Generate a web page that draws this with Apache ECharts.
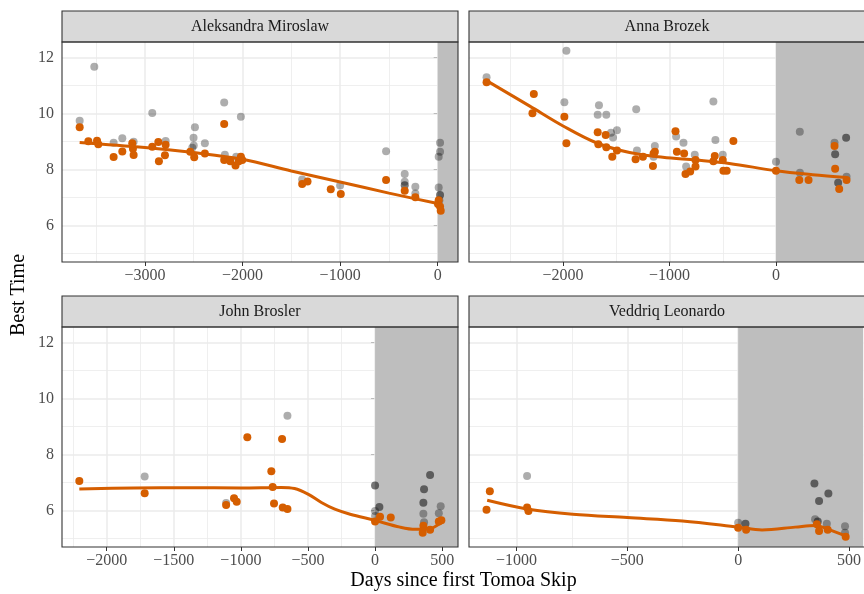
<!DOCTYPE html>
<html><head><meta charset="utf-8">
<script src="https://cdn.jsdelivr.net/npm/echarts@6/dist/echarts.min.js"></script>
<style>html,body{margin:0;padding:0;background:#fff}#c{width:864px;height:594px}</style>
</head><body><div id="c"></div>
<script>
// ---------- data ----------
const panelNames = ['Aleksandra Miroslaw', 'Anna Brozek', 'John Brosler', 'Veddriq Leonardo'];

const aleksGray = [[-3669,9.74],[-3519,11.67],[-3321,8.95],[-3232,9.11],[-3116,8.99],[-2925,10.01],[-2788,9.01],[-2515,8.77],[-2502,9.13],[-2488,9.5],[-2500,8.85],[-2386,8.93],[-2188,10.39],[-2181,8.52],[-2065,8.45],[-2017,9.88],[-1389,7.64],[-1000,7.42],[-529,8.65],[-338,7.83],[-338,7.56],[-229,7.38],[-229,7.14],[10,7.35],[10,8.45],[24,8.63],[24,8.95],[17,6.9]];
const aleksDark = [[-338,7.43],[24,7.08]];
const aleksOrange = [[-3669,9.5],[-3580,9.0],[-3491,9.02],[-3478,8.9],[-3321,8.44],[-3232,8.64],[-3130,8.93],[-3123,8.74],[-3116,8.51],[-2925,8.81],[-2863,8.98],[-2857,8.29],[-2795,8.5],[-2788,8.88],[-2536,8.63],[-2495,8.43],[-2386,8.57],[-2188,9.62],[-2188,8.33],[-2126,8.29],[-2072,8.14],[-2038,8.29],[-2017,8.45],[-2003,8.33],[-1389,7.48],[-1334,7.57],[-1096,7.29],[-993,7.12],[-529,7.62],[-338,7.24],[-229,7.0],[10,6.9],[24,6.67],[31,6.52],[3,6.76]];
const aleksSmooth = [[-3669,8.96],[-3000,8.78],[-2500,8.6],[-2000,8.36],[-1500,7.94],[-1000,7.55],[-500,7.15],[0,6.78],[31,6.75]];

const annaGray = [[-2719,11.29],[-1969,12.24],[-1988,10.4],[-1663,10.29],[-1675,9.95],[-1594,9.95],[-1550,9.31],[-1494,9.4],[-1531,9.14],[-1313,10.15],[-1306,8.67],[-1138,8.83],[-1150,8.45],[-938,9.17],[-869,8.95],[-763,8.52],[-844,8.1],[-588,10.42],[-569,9.05],[-500,8.52],[0,8.27],[224,9.34],[225,7.88],[550,8.95],[663,7.74]];
const annaDark = [[556,8.54],[584,7.52],[659,9.13]];
const annaOrange = [[-2719,11.11],[-2275,10.69],[-2288,10.0],[-1988,9.88],[-1969,8.93],[-1675,9.33],[-1600,9.23],[-1669,8.9],[-1594,8.79],[-1538,8.45],[-1494,8.67],[-1319,8.36],[-1250,8.45],[-1150,8.57],[-1138,8.63],[-1156,8.12],[-944,9.36],[-931,8.63],[-863,8.57],[-850,7.83],[-806,7.92],[-756,8.1],[-756,8.33],[-588,8.29],[-575,8.48],[-500,8.33],[-494,7.95],[-463,7.95],[-400,9.01],[0,7.95],[219,7.62],[306,7.62],[550,8.83],[556,8.02],[594,7.3],[663,7.62]];
const annaSmooth = [[-2719,11.17],[-2313,10.26],[-2000,9.55],[-1688,8.95],[-1375,8.6],[-1063,8.43],[-750,8.33],[-438,8.21],[0,7.95],[344,7.81],[663,7.71]];

const johnGray = [[-1717,7.21],[-653,9.38],[-1110,6.26],[0,5.98],[0,5.8],[360,5.88],[365,5.57],[489,6.15],[475,5.9]];
const johnDark = [[0,6.89],[32,6.12],[365,6.75],[360,6.27],[410,7.26]];
const johnOrange = [[-2204,7.05],[-1717,6.61],[-1110,6.19],[-1051,6.43],[-1031,6.31],[-952,8.61],[-773,7.4],[-763,6.83],[-753,6.24],[-693,8.55],[-688,6.1],[-653,6.05],[0,5.6],[37,5.77],[117,5.74],[360,5.45],[355,5.2],[410,5.31],[475,5.6],[494,5.65]];
const johnSmooth = [[-2204,6.76],[-1800,6.8],[-1400,6.81],[-1000,6.8],[-700,6.82],[-600,6.78],[-500,6.58],[-400,6.28],[-300,6.04],[-186,5.86],[0,5.64],[186,5.4],[300,5.32],[400,5.33],[494,5.58]];

const vedGray = [[-952,7.23],[0,5.56],[347,5.68],[400,5.52],[482,5.43],[482,5.2]];
const vedDark = [[344,6.96],[365,6.33],[407,6.6],[33,5.52],[359,5.6]];
const vedOrange = [[-1135,6.02],[-1120,6.68],[-952,6.1],[-946,5.98],[0,5.38],[36,5.31],[355,5.5],[365,5.26],[404,5.31],[485,5.06]];
const vedSmooth = [[-1132,6.36],[-946,6.04],[-746,5.86],[-500,5.74],[-251,5.62],[0,5.4],[108,5.3],[257,5.4],[347,5.46],[407,5.32],[485,5.08]];

const xMajorTicks = [[-3000,-2000,-1000,0],[-2000,-1000,0],[-2000,-1500,-1000,-500,0,500],[-1000,-500,0,500]];
const xMinorTicks = [[-3500,-2500,-1500,-500],[-2500,-1500,-500,500],[-2250,-1750,-1250,-750,-250,250],[-750,-250,250]];
const yMajorTicks = [6,8,10,12];
const yMinorTicks = [5,7,9,11];

// ---------- layout ----------
const xLimits = [[-3850,208],[-2884,827],[-2333,618],[-1214,564]];
const yLimits = [4.69,12.55];
const gridBoxes = [[62,42],[469,42],[62,327],[469,327]];
const GW = 396, GH = 220, STRIP = 31;
const FONT = 'Liberation Serif';
const ORANGE = '#D55E00';

const grays = [aleksGray, annaGray, johnGray, vedGray];
const darks = [aleksDark, annaDark, johnDark, vedDark];
const oranges = [aleksOrange, annaOrange, johnOrange, vedOrange];
const smooths = [aleksSmooth, annaSmooth, johnSmooth, vedSmooth];

const fmt = v => v < 0 ? '\u2212' + Math.abs(v) : String(v);

const grid = [], xAxis = [], yAxis = [], series = [], graphic = [];
gridBoxes.forEach((b, i) => {
  grid.push({left: b[0], top: b[1], width: GW, height: GH, show: false});
  xAxis.push({
    type: 'value', gridIndex: i, min: xLimits[i][0], max: xLimits[i][1],
    axisLine: {show: false},
    axisTick: {show: true, customValues: xMajorTicks[i], length: 4, lineStyle: {color: '#333', width: 1}},
    axisLabel: {show: true, customValues: xMajorTicks[i], formatter: fmt, margin: 6,
      fontFamily: FONT, fontSize: 16, color: '#4d4d4d'},
    splitLine: {show: false}
  });
  const showY = (i % 2 === 0);
  yAxis.push({
    type: 'value', gridIndex: i, min: yLimits[0], max: yLimits[1],
    axisLine: {show: false},
    axisTick: {show: showY, customValues: yMajorTicks, length: 4, lineStyle: {color: '#333', width: 1}},
    axisLabel: {show: showY, customValues: yMajorTicks, margin: 8,
      fontFamily: FONT, fontSize: 16, color: '#4d4d4d'},
    splitLine: {show: false}
  });
  const gl = [];
  yMinorTicks.forEach(v => gl.push({yAxis: v, lineStyle: {color: '#ebebeb', width: 0.8, type: 'solid'}}));
  xMinorTicks[i].forEach(v => gl.push({xAxis: v, lineStyle: {color: '#ebebeb', width: 0.8, type: 'solid'}}));
  yMajorTicks.forEach(v => gl.push({yAxis: v, lineStyle: {color: '#ebebeb', width: 1.5, type: 'solid'}}));
  xMajorTicks[i].forEach(v => gl.push({xAxis: v, lineStyle: {color: '#ebebeb', width: 1.5, type: 'solid'}}));
  series.push({
    type: 'line', xAxisIndex: i, yAxisIndex: i, data: [], z: 1, silent: true,
    markLine: {silent: true, z: 1, symbol: ['none', 'none'], label: {show: false}, animation: false, data: gl}
  });
  series.push({
    type: 'line', xAxisIndex: i, yAxisIndex: i, data: [], z: 2, silent: true,
    markArea: {silent: true, z: 2, itemStyle: {color: '#bebebe'}, label: {show: false},
      data: [[{xAxis: 0}, {xAxis: xLimits[i][1]}]]}
  });
  series.push({type: 'scatter', xAxisIndex: i, yAxisIndex: i, data: grays[i], z: 3, symbolSize: 8,
    itemStyle: {color: 'rgba(0,0,0,0.4)'}, silent: true});
  series.push({type: 'scatter', xAxisIndex: i, yAxisIndex: i, data: darks[i], z: 3, symbolSize: 8,
    itemStyle: {color: 'rgba(20,20,20,0.72)'}, silent: true});
  series.push({type: 'scatter', xAxisIndex: i, yAxisIndex: i, data: oranges[i], z: 4, symbolSize: 8,
    itemStyle: {color: ORANGE, opacity: 1}, silent: true});
  series.push({type: 'line', xAxisIndex: i, yAxisIndex: i, data: smooths[i], z: 5, smooth: 0.35,
    showSymbol: false, symbol: 'none', lineStyle: {color: ORANGE, width: 3}, silent: true});

  // strip + border
  graphic.push({type: 'rect', shape: {x: b[0], y: b[1] - STRIP, width: GW, height: STRIP},
    style: {fill: '#d9d9d9', stroke: '#333', lineWidth: 1.1}, z: 100, silent: true});
  graphic.push({type: 'text', x: b[0] + GW / 2, y: b[1] - STRIP / 2 + 0.5,
    style: {text: panelNames[i], font: '16px "Liberation Serif"', fill: '#1a1a1a', align: 'center', verticalAlign: 'middle'},
    z: 101, silent: true});
  graphic.push({type: 'rect', shape: {x: b[0], y: b[1], width: GW, height: GH},
    style: {fill: 'none', stroke: '#333', lineWidth: 1.1}, z: 100, silent: true});
});

graphic.push({type: 'text', x: 463.5, y: 581,
  style: {text: 'Days since first Tomoa Skip', font: '20px "Liberation Serif"', fill: '#000', align: 'center', verticalAlign: 'middle'},
  z: 101, silent: true});
graphic.push({type: 'text', x: 19, y: 295, rotation: Math.PI / 2,
  style: {text: 'Best Time', font: '20px "Liberation Serif"', fill: '#000', align: 'center', verticalAlign: 'middle'},
  z: 101, silent: true});

const chart = echarts.init(document.getElementById('c'), null, {renderer: 'canvas'});
chart.setOption({animation: false, backgroundColor: '#fff', grid, xAxis, yAxis, series, graphic});
</script></body></html>
